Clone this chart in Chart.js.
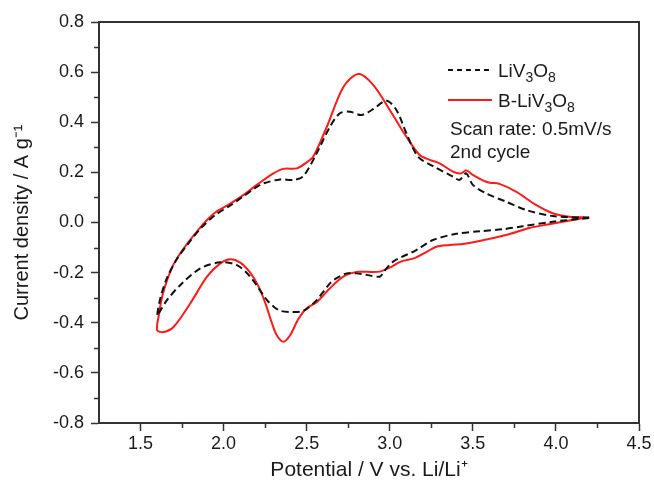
<!DOCTYPE html>
<html>
<head>
<meta charset="utf-8">
<script src="https://cdn.jsdelivr.net/npm/chart.js@4.4.1/dist/chart.umd.min.js"></script>
<style>
  html, body { margin: 0; padding: 0; background: #fff; }
</style>
</head>
<body>
<canvas id="cv" width="654" height="483"></canvas>
<script>
// LiV3O8, closed CV loop: cathodic scan 4.2 -> 1.6 V, then anodic back to 4.2 V
const lvoPotential = [
  4.20, 3.98, 3.80, 3.68, 3.54, 3.40, 3.26, 3.16, 3.02, 2.96, 2.94, 2.86, 2.80, 2.74, 2.68, 2.64,
  2.56, 2.50, 2.46, 2.40, 2.34, 2.30, 2.26, 2.16, 2.08, 1.98, 1.86, 1.74, 1.66, 1.61, 1.60,
  1.62, 1.66, 1.72, 1.78, 1.86, 1.95, 2.04, 2.12, 2.20, 2.24, 2.34, 2.42, 2.48, 2.56, 2.64,
  2.70, 2.76, 2.83, 2.90, 2.98, 3.04, 3.10, 3.17, 3.26, 3.38, 3.42, 3.46, 3.50, 3.58, 3.70,
  3.82, 3.98, 4.18, 4.20
];
const lvoCurrent = [
  0.018, 0.003, -0.015, -0.027, -0.035, -0.045, -0.070, -0.110, -0.156, -0.200, -0.216, -0.209, -0.203, -0.203, -0.222, -0.243,
  -0.310, -0.345, -0.356, -0.357, -0.352, -0.335, -0.309, -0.216, -0.170, -0.159, -0.183, -0.249, -0.309, -0.362, -0.372,
  -0.300, -0.220, -0.145, -0.090, -0.025, 0.030, 0.068, 0.105, 0.142, 0.156, 0.172, 0.170, 0.185, 0.276, 0.382,
  0.436, 0.442, 0.429, 0.452, 0.486, 0.449, 0.356, 0.263, 0.225, 0.183, 0.170, 0.196, 0.150, 0.116, 0.083,
  0.050, 0.026, 0.019, 0.018
];

// B-LiV3O8
const blvoPotential = [
  4.20, 4.10, 3.95, 3.84, 3.70, 3.58, 3.45, 3.36, 3.28, 3.22, 3.15, 3.07, 3.00, 2.94, 2.86, 2.80,
  2.72, 2.64, 2.56, 2.50, 2.45, 2.40, 2.36, 2.32, 2.29, 2.25, 2.21, 2.16, 2.10, 2.04, 1.98,
  1.90, 1.80, 1.70, 1.64, 1.60,
  1.61, 1.63, 1.66, 1.70, 1.76, 1.84, 1.90, 1.95, 2.04, 2.12, 2.20, 2.30, 2.36, 2.44, 2.50,
  2.54, 2.62, 2.72, 2.81, 2.90, 3.00, 3.10, 3.18, 3.24, 3.30, 3.38, 3.43, 3.46, 3.50, 3.56,
  3.60, 3.66, 3.76, 3.88, 3.98, 4.08, 4.20
];
const blvoCurrent = [
  0.022, 0.010, -0.008, -0.022, -0.050, -0.068, -0.085, -0.090, -0.097, -0.118, -0.142, -0.155, -0.180, -0.196, -0.197, -0.197,
  -0.216, -0.262, -0.318, -0.342, -0.385, -0.450, -0.476, -0.450, -0.400, -0.320, -0.255, -0.200, -0.160, -0.147, -0.163,
  -0.216, -0.322, -0.416, -0.437, -0.430,
  -0.370, -0.296, -0.230, -0.165, -0.103, -0.035, 0.010, 0.040, 0.075, 0.110, 0.150, 0.196, 0.214, 0.216, 0.240,
  0.263, 0.380, 0.540, 0.593, 0.549, 0.449, 0.342, 0.269, 0.250, 0.236, 0.203, 0.196, 0.208, 0.190, 0.168,
  0.159, 0.154, 0.123, 0.070, 0.037, 0.023, 0.020
];

const xTicks = [1.5, 2.0, 2.5, 3.0, 3.5, 4.0, 4.5];
const xMinor = [1.75, 2.25, 2.75, 3.25, 3.75, 4.25];
const yTicks = [-0.8, -0.6, -0.4, -0.2, 0.0, 0.2, 0.4, 0.6, 0.8];
const yMinor = [-0.7, -0.5, -0.3, -0.1, 0.1, 0.3, 0.5, 0.7];

const FONT = "'Liberation Sans', Arial, sans-serif";
const AXIS = '#333';
const INK = '#1a1a1a';

function toPoints(xs, ys) {
  return xs.map((v, i) => ({ x: v, y: ys[i] }));
}

// text with subscripts, parts like [['LiV',0],['3',1]]
function drawParts(ctx, parts, x, y) {
  parts.forEach(p => {
    ctx.font = p[1] ? '14px ' + FONT : '19px ' + FONT;
    ctx.fillText(p[0], x, y + (p[1] ? 5 : 0));
    x += ctx.measureText(p[0]).width;
  });
}

const extras = {
  id: 'extras',
  afterDraw(chart) {
    const ctx = chart.ctx;
    const a = chart.chartArea;
    const sx = chart.scales.x, sy = chart.scales.y;
    ctx.save();
    // top and right frame
    ctx.strokeStyle = AXIS;
    ctx.lineWidth = 2;
    ctx.beginPath();
    ctx.moveTo(a.left, a.top);
    ctx.lineTo(a.right, a.top);
    ctx.lineTo(a.right, a.bottom);
    ctx.stroke();
    // minor ticks
    ctx.lineWidth = 1.5;
    ctx.beginPath();
    xMinor.forEach(v => {
      const px = Math.round(sx.getPixelForValue(v)) + 0.5;
      ctx.moveTo(px, a.bottom);
      ctx.lineTo(px, a.bottom + 5);
    });
    yMinor.forEach(v => {
      const py = Math.round(sy.getPixelForValue(v)) + 0.5;
      ctx.moveTo(a.left, py);
      ctx.lineTo(a.left - 5, py);
    });
    ctx.stroke();

    // legend
    ctx.lineWidth = 2;
    ctx.strokeStyle = '#111';
    ctx.setLineDash([5, 4]);
    ctx.beginPath();
    ctx.moveTo(448, 70);
    ctx.lineTo(492, 70);
    ctx.stroke();
    ctx.setLineDash([]);
    ctx.strokeStyle = '#ff1a1a';
    ctx.beginPath();
    ctx.moveTo(448, 100);
    ctx.lineTo(492, 100);
    ctx.stroke();

    ctx.fillStyle = INK;
    ctx.textBaseline = 'alphabetic';
    ctx.textAlign = 'left';
    drawParts(ctx, [['LiV', 0], ['3', 1], ['O', 0], ['8', 1]], 498, 77);
    drawParts(ctx, [['B-LiV', 0], ['3', 1], ['O', 0], ['8', 1]], 498, 107);
    ctx.font = '19px ' + FONT;
    ctx.fillText('Scan rate: 0.5mV/s', 450, 135);
    ctx.fillText('2nd cycle', 450, 158);
    ctx.restore();
  }
};

new Chart(document.getElementById('cv'), {
  type: 'scatter',
  data: {
    datasets: [
      {
        label: 'LiV3O8',
        data: toPoints(lvoPotential, lvoCurrent),
        showLine: true,
        borderColor: '#111',
        borderWidth: 2,
        borderDash: [7, 4],
        pointRadius: 0,
        tension: 0.3
      },
      {
        label: 'B-LiV3O8',
        data: toPoints(blvoPotential, blvoCurrent),
        showLine: true,
        borderColor: '#ff1a1a',
        borderWidth: 2,
        pointRadius: 0,
        tension: 0.3
      }
    ]
  },
  options: {
    responsive: false,
    animation: false,
    layout: { padding: { top: 22, right: 15, left: 0, bottom: 0 } },
    plugins: { legend: { display: false }, tooltip: { enabled: false } },
    scales: {
      x: {
        type: 'linear',
        min: 1.25,
        max: 4.5,
        afterBuildTicks: s => { s.ticks = xTicks.map(v => ({ value: v })); },
        afterFit: s => { s.height = 60; },
        ticks: {
          autoSkip: false,
          maxRotation: 0,
          padding: 2,
          color: INK,
          font: { family: FONT, size: 18 },
          callback: v => Number(v).toFixed(1)
        },
        grid: { drawOnChartArea: false, tickLength: 8, color: AXIS, tickWidth: 1.5 },
        border: { color: AXIS, width: 2 },
        title: {
          display: true,
          text: 'Potential / V vs. Li/Li⁺',
          color: INK,
          font: { family: FONT, size: 21 },
          padding: { top: 2, bottom: 0 }
        }
      },
      y: {
        type: 'linear',
        min: -0.8,
        max: 0.8,
        afterBuildTicks: s => { s.ticks = yTicks.map(v => ({ value: v })); },
        afterFit: s => { s.width = 99; },
        ticks: {
          autoSkip: false,
          padding: 7,
          color: INK,
          font: { family: FONT, size: 18 },
          callback: v => Number(v).toFixed(1)
        },
        grid: { drawOnChartArea: false, tickLength: 8, color: AXIS, tickWidth: 1.5 },
        border: { color: AXIS, width: 2 },
        title: {
          display: true,
          text: 'Current density / A g⁻¹',
          color: INK,
          font: { family: FONT, size: 20 },
          padding: { top: 10, bottom: 0 }
        }
      }
    }
  },
  plugins: [extras]
});
</script>
</body>
</html>
